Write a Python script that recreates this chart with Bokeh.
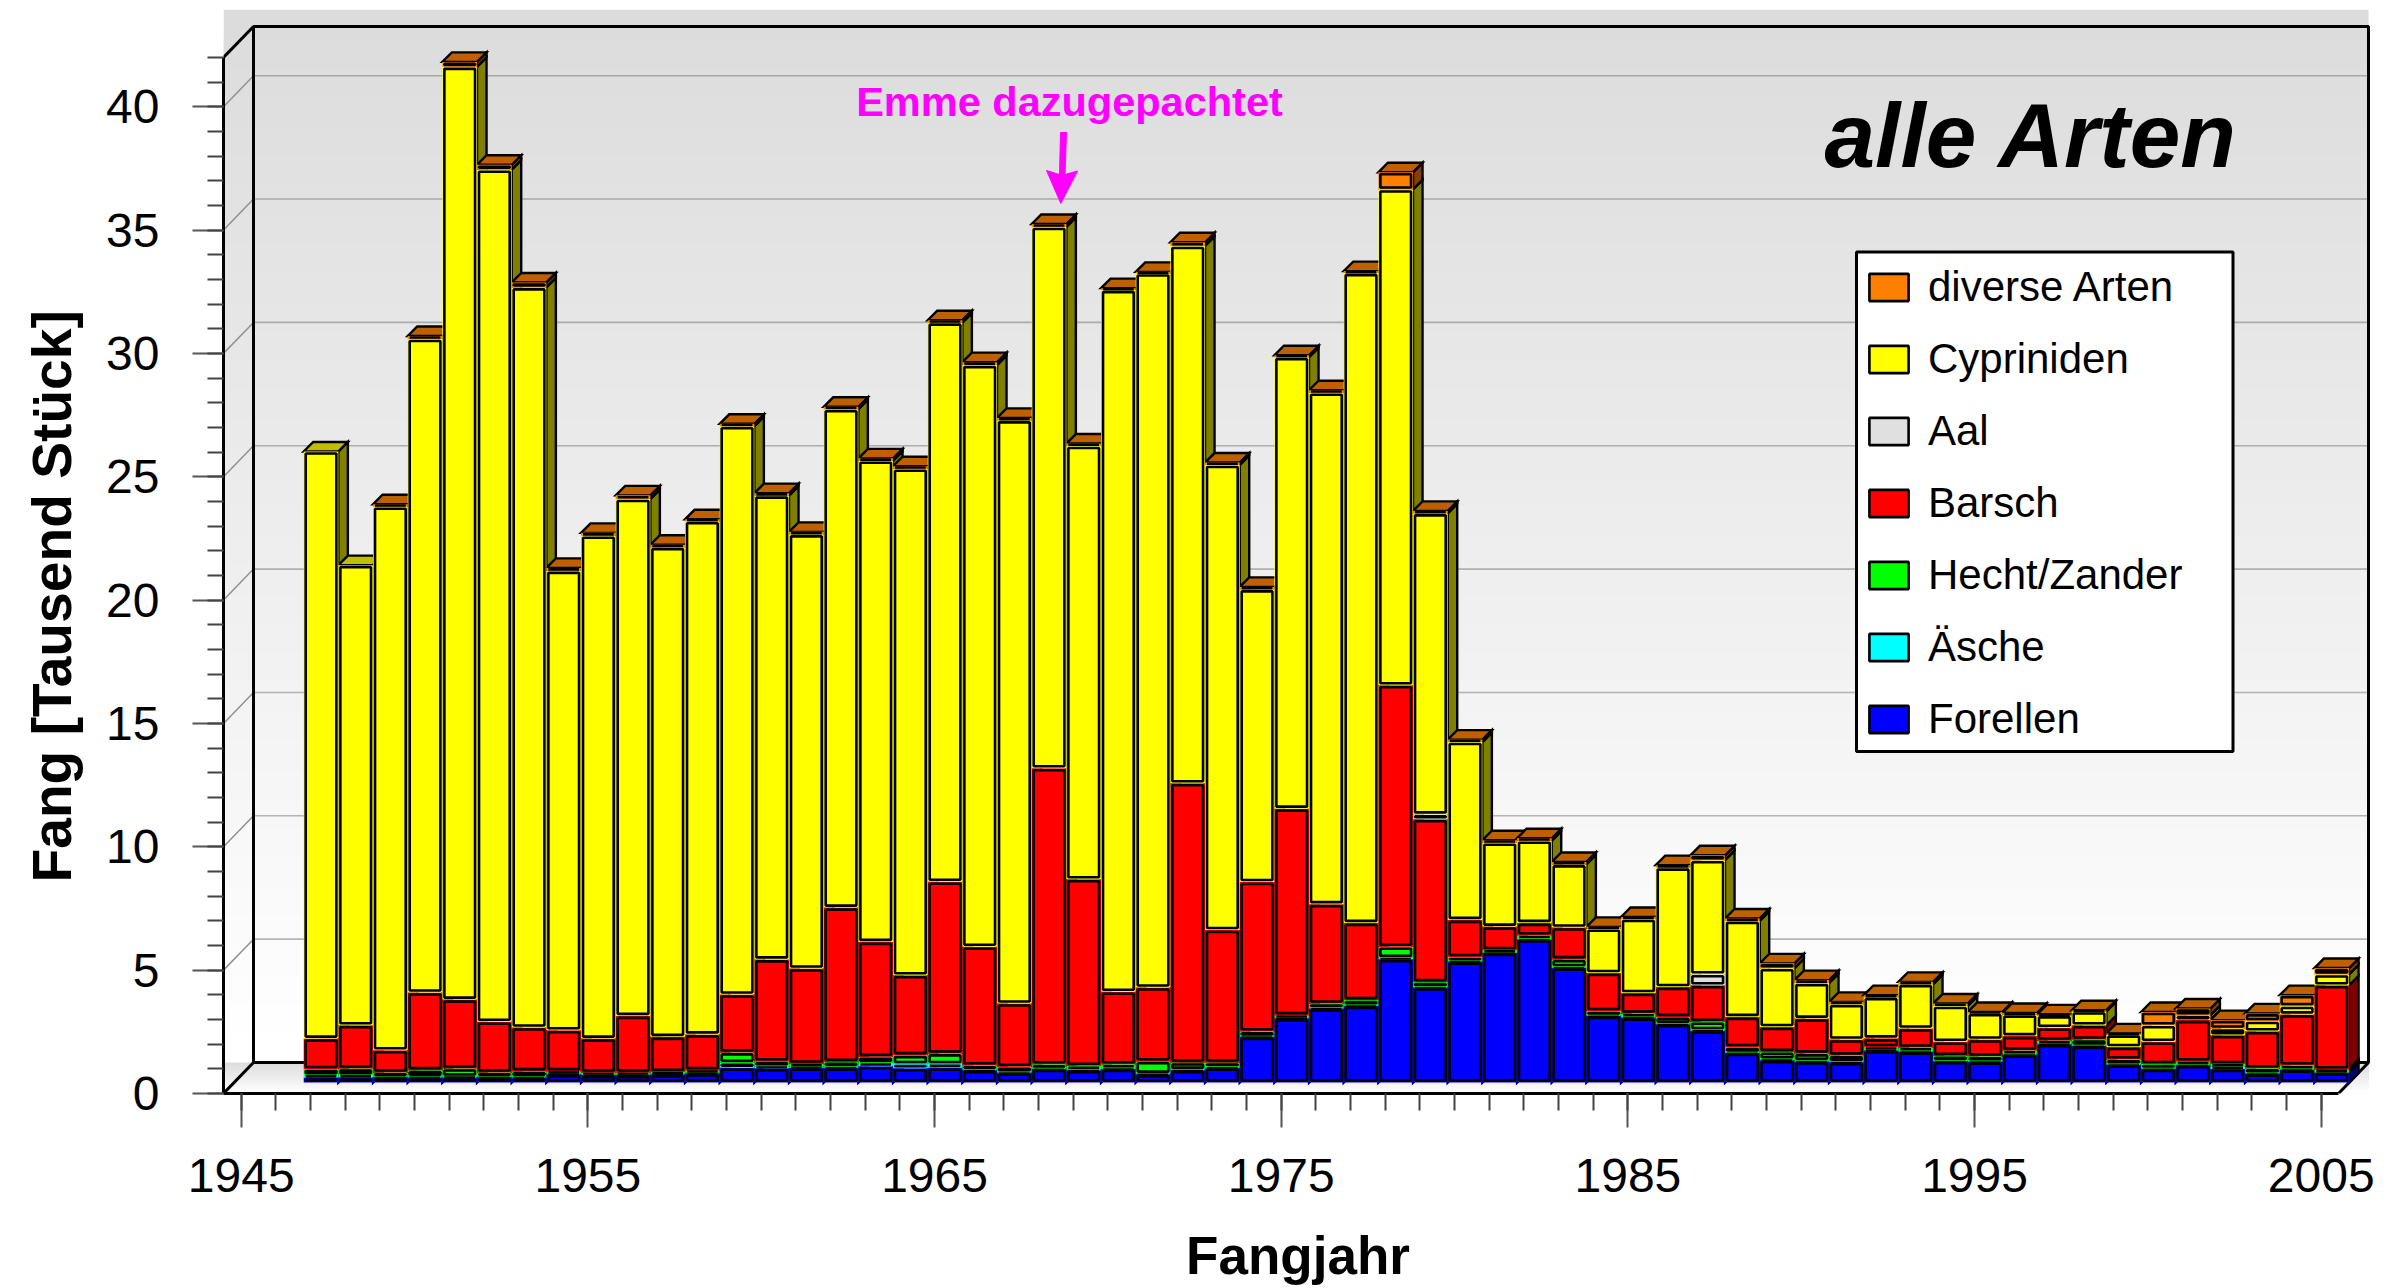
from bokeh.plotting import figure
from bokeh.models import (ColumnDataSource, Range1d, FixedTicker, Legend, LegendItem, Title)
from bokeh.core.properties import value
from bokeh.embed import file_html
from bokeh.resources import INLINE

# ---------- data (thousand fish per year) ----------
years = list(range(1947, 2006))
forellen = [.20,.20,.22,.20,.20,.22,.20,.33,.30,.30,.33,.37,.60,.58,.60,.60,.66,.58,.60,.50,.40,.55,.50,.55,.33,.50,.60,1.85,2.60,3.00,3.10,5.00,3.85,4.90,5.25,5.80,4.65,2.70,2.63,2.36,2.10,1.20,.90,.85,.82,1.30,1.25,.86,.84,1.13,1.55,1.48,.72,.55,.70,.55,.36,.52,.40]
aesche = [.10,.10,.02,.04,.05,.02,.03,.03,.02,.02,.03,.03,.20,.08,.05,.04,.14,.17,.15,.02,.02,.02,.02,.03,.03,.02,.03,.02,.02,.02,.03,.05,.02,.02,.02,.02,.03,.02,.02,.02,.03,.02,.04,.03,.02,.02,.02,.02,.02,.02,.02,.02,.02,.02,.02,.10,.02,.02,.02]
hecht = [.25,.27,.17,.26,.32,.17,.23,.10,.09,.09,.07,.10,.42,.20,.12,.20,.24,.36,.43,.18,.22,.17,.16,.16,.50,.29,.18,.21,.11,.18,.21,.45,.20,.17,.10,.15,.32,.18,.15,.28,.33,.22,.30,.30,.26,.12,.15,.20,.20,.15,.13,.24,.20,.18,.14,.10,.20,.16,.12]
barsch = [1.23,1.75,.90,3.15,2.79,2.05,1.77,1.66,1.37,2.29,1.42,1.45,2.35,4.13,3.85,6.25,4.66,3.24,6.96,4.80,2.56,12.00,7.56,2.94,2.99,11.32,5.37,6.05,8.37,4.03,3.13,10.60,6.60,1.50,.95,.50,1.28,1.54,.83,1.21,1.48,1.22,1.01,1.41,.64,.35,.77,.57,.68,.58,.52,.58,.50,.90,1.67,1.17,1.50,2.06,3.40]
aal = [0,0,0,0,0,0,0,0,0,0,0,0,0,0,0,0,0,0,0,0,0,0,0,0,0,0,0,0,0,0,0,0,.20,0,0,0,0,0,0,0,.45,0,0,0,0,0,0,0,0,0,0,0,0,0,0,0,0,0,0]
cypriniden = [23.80,18.65,22.03,26.49,37.81,34.54,30.00,18.62,20.38,20.95,19.85,20.80,23.03,18.80,17.60,20.20,19.50,20.53,22.66,23.58,23.64,21.94,17.56,28.44,28.94,21.78,18.85,11.86,18.30,20.73,26.34,20.10,12.20,7.21,3.40,3.33,2.56,1.79,3.00,4.84,4.62,3.89,2.38,1.44,1.43,1.67,1.79,1.45,1.07,.87,.50,.56,.50,.67,.20,.27,.41,.34,.44]
diverse = [0,0,.10,.12,.20,.20,.20,.12,.12,.15,.10,.08,.10,.10,.10,.10,.10,.10,.10,.12,.10,.12,.10,.08,.07,.15,.10,.10,.08,.10,.08,.70,.10,.10,.10,.10,.10,.08,.08,.10,.20,.10,.20,.12,.10,.08,.10,.10,.05,.07,.04,.05,.05,.54,.27,.34,.31,.44,.26]

series_names = ["Forellen", "Äsche", "Hecht/Zander", "Barsch", "Aal", "Cypriniden", "diverse Arten"]
series_values = [forellen, aesche, hecht, barsch, aal, cypriniden, diverse]
series_colors = ["#0000ff", "#00ffff", "#00ff00", "#ff0000", "#e0e0e0", "#ffff00", "#ff8000"]
legend_order = ["diverse Arten", "Cypriniden", "Aal", "Barsch", "Hecht/Zander", "Äsche", "Forellen"]
y_ticks = [0, 5, 10, 15, 20, 25, 30, 35, 40]
y_minor = list(range(0, 43))
x_ticks = [1945, 1955, 1965, 1975, 1985, 1995, 2005]
x_minor = list(range(1945, 2006))

# ---------- pixel geometry of the page ----------
PX_YEAR = 34.667
PX_VAL = 24.67
F_L, F_R, F_T, F_B = 223, 2372, 9, 1093     # frame on the page
W, H = 2396, 1288
X0 = 1945 + (F_L - 240.7) / PX_YEAR
X1 = X0 + (F_R - F_L) / PX_YEAR
Y1 = (F_B - F_T) / PX_VAL


def dx(px):
    return px / PX_YEAR


def dy(px):
    return px / PX_VAL


def X(px):
    return X0 + (px - F_L) / PX_YEAR


def Y(px):
    return (F_B - px) / PX_VAL


p = figure(width=W, height=H, output_backend="svg", toolbar_location=None,
           x_range=Range1d(X0, X1), y_range=Range1d(0, Y1),
           min_border_left=F_L, min_border_right=W - F_R, min_border_top=F_T,
           min_border_bottom=H - F_B, outline_line_color=None,
           background_fill_color=None, border_fill_color="white")
p.grid.visible = False

FONT = "Liberation Sans"

# ---------- gradient panel (top wall) and floor ----------
PANEL_R = 2368
BACK_B = 1062
BACK_T = 26
BACK_L = 253


def bands(top, bottom, c0=220, c1=255):
    n = c1 - c0 + 1
    for i in range(n):
        t = top + (bottom - top) * i / n
        c = c0 + i
        p.quad(left=X(F_L), right=X(PANEL_R), top=Y(round(t)), bottom=Y(bottom),
               fill_color="#%02x%02x%02x" % (c, c, c), line_color=None)


bands(F_T, BACK_B)
bands(BACK_B, F_B)

# ---------- walls ----------
for v in y_ticks[1:]:
    p.line([X(BACK_L), X(PANEL_R)], [v + dy(F_B - BACK_B)] * 2, line_color="#707070",
           line_width=1.6, line_dash="1 1")
    p.line([X(F_L), X(BACK_L)], [v, v + dy(F_B - BACK_B)], line_color="#909090", line_width=1.5)

wall = dict(line_color="black", line_width=3)
p.line([X(BACK_L), X(BACK_L), X(PANEL_R), X(PANEL_R), X(BACK_L), X(BACK_L)],
       [Y(BACK_B), Y(BACK_T), Y(BACK_T), Y(BACK_B), Y(BACK_B), Y(BACK_T)], **wall)
p.line([X(F_L), X(BACK_L)], [Y(57), Y(BACK_T)], **wall)
p.line([X(F_L), X(BACK_L)], [0, Y(BACK_B)], **wall)
p.line([X(2338), X(PANEL_R)], [0, Y(BACK_B)], **wall)

# ---------- bars ----------
SHIFT_X, SHIFT_Y = dx(10.5), dy(11)
HALF = 0.5
SIDE_X, SIDE_Y = dx(9.5), dy(9.5)
INSET_X, INSET_Y = dx(2), dy(2)


def shade(c, f):
    r, g, b = int(c[1:3], 16), int(c[3:5], 16), int(c[5:7], 16)
    return "#%02x%02x%02x" % (int(r * f), int(g * f), int(b * f))


fx, fy, fc = [], [], []
for i, yr in enumerate(years):
    base = SHIFT_Y
    r = yr + HALF + SHIFT_X
    l = yr - HALF + SHIFT_X
    top_col = None
    for vals, col in zip(series_values, series_colors):
        h = vals[i]
        if h <= 0:
            continue
        fx.append([r, r, r + SIDE_X, r + SIDE_X])
        fy.append([base, base + h, base + h + SIDE_Y, base + SIDE_Y])
        fc.append(shade(col, 0.5))
        base += h
        top_col = col
    fx.append([l, r, r + SIDE_X, l + SIDE_X])
    fy.append([base, base, base + SIDE_Y, base + SIDE_Y])
    fc.append(shade(top_col, 0.75))
p.patches(fx, fy, fill_color=fc, line_color="black", line_width=2.4, line_join="miter")

legend_r = {}
bottoms = [SHIFT_Y] * len(years)
for name, vals, col in zip(series_names, series_values, series_colors):
    idx = [i for i, v in enumerate(vals) if v > 0]
    xl = [years[i] - HALF + SHIFT_X for i in idx]
    xr = [years[i] + HALF + SHIFT_X for i in idx]
    yb = [bottoms[i] for i in idx]
    yt = [bottoms[i] + vals[i] for i in idx]
    p.quad(left=xl, right=xr, top=yt, bottom=yb, fill_color=col, line_color=None)
    src = ColumnDataSource(dict(
        l=[a + INSET_X for a in xl], r=[a - INSET_X for a in xr],
        b=[min(a + INSET_Y, (a + c) / 2) for a, c in zip(yb, yt)],
        t=[max(c - INSET_Y, (a + c) / 2) for a, c in zip(yb, yt)]))
    legend_r[name] = p.quad(left="l", right="r", top="t", bottom="b", source=src,
                            fill_color=col, line_color="black", line_width=2.6)
    for i in idx:
        bottoms[i] += vals[i]

# ---------- legend ----------
p.quad(left=X(1856), right=X(2232.5), top=Y(251.5), bottom=Y(751), fill_color="white",
       line_color="black", line_width=3)
legend = Legend(items=[LegendItem(label=n, renderers=[legend_r[n]]) for n in legend_order],
                location=(1864 - F_L, F_B - 742.5), orientation="vertical",
                background_fill_alpha=0, border_line_color=None, margin=0, padding=0,
                glyph_width=49, glyph_height=34, label_standoff=15, spacing=24,
                label_text_font=FONT, label_text_font_size="42px", label_text_color="black",
                label_text_baseline="middle")
p.add_layout(legend, "center")

# ---------- annotations ----------
p.text(x=[X(1824)], y=[Y(135)], text=["alle Arten"], text_font=value(FONT),
       text_font_style="bold italic", text_font_size="91px", text_color="black",
       text_align="left", text_baseline="middle")
p.text(x=[X(1069)], y=[Y(101)], text=["Emme dazugepachtet"], text_font=value(FONT),
       text_font_style="bold", text_font_size="41.5px", text_color="#ff00ff",
       text_align="center", text_baseline="middle")
# arrow below the note: shaft and notched head, pointing at the 1968 bar
ARROW_X = [1060, 1066, 1064.5, 1077, 1060.3, 1046, 1059]
ARROW_Y = [132, 132, 174, 170.5, 203, 170, 174]
p.patch([X(a) for a in ARROW_X], [Y(b) for b in ARROW_Y], fill_color="#ff00ff", line_color="#ff00ff",
        line_width=1)

# ---------- axes ----------
ya = p.yaxis[0]
ya.bounds = (0, 42)
ya.ticker = FixedTicker(ticks=y_ticks, minor_ticks=y_minor)
ya.major_tick_in = 0
ya.major_tick_out = 31
ya.minor_tick_in = 0
ya.minor_tick_out = 16
ya.axis_line_color = "black"
ya.axis_line_width = 3
ya.major_tick_line_color = "#555555"
ya.major_tick_line_width = 2
ya.minor_tick_line_color = "#444444"
ya.minor_tick_line_width = 2
ya.major_label_text_font = FONT
ya.major_label_text_font_size = "48px"
ya.major_label_text_color = "black"
ya.major_label_standoff = 33
p.add_layout(Title(text="Fang [Tausend Stück]", align="left", offset=211, standoff=38,
                   vertical_align="top",
                   text_font=FONT, text_font_style="bold", text_font_size="55.2px",
                   text_color="black"), "left")

xa = p.xaxis[0]
xa.bounds = (X0, X0 + (2338 - F_L) / PX_YEAR)
xa.ticker = FixedTicker(ticks=x_ticks, minor_ticks=x_minor)
xa.major_tick_in = 0
xa.major_tick_out = 34
xa.minor_tick_in = 0
xa.minor_tick_out = 17
xa.axis_line_color = "black"
xa.axis_line_width = 3
xa.major_tick_line_color = "#555555"
xa.major_tick_line_width = 2
xa.minor_tick_line_color = "#444444"
xa.minor_tick_line_width = 2
xa.major_label_text_font = FONT
xa.major_label_text_font_size = "48px"
xa.major_label_text_color = "black"
xa.major_label_standoff = 31
xa.axis_label = "Fangjahr"
xa.axis_label_text_font = FONT
xa.axis_label_text_font_style = "bold"
xa.axis_label_text_font_size = "53px"
xa.axis_label_text_color = "black"
xa.axis_label_standoff = 31

open("out.html", "w").write(file_html(p, INLINE))
